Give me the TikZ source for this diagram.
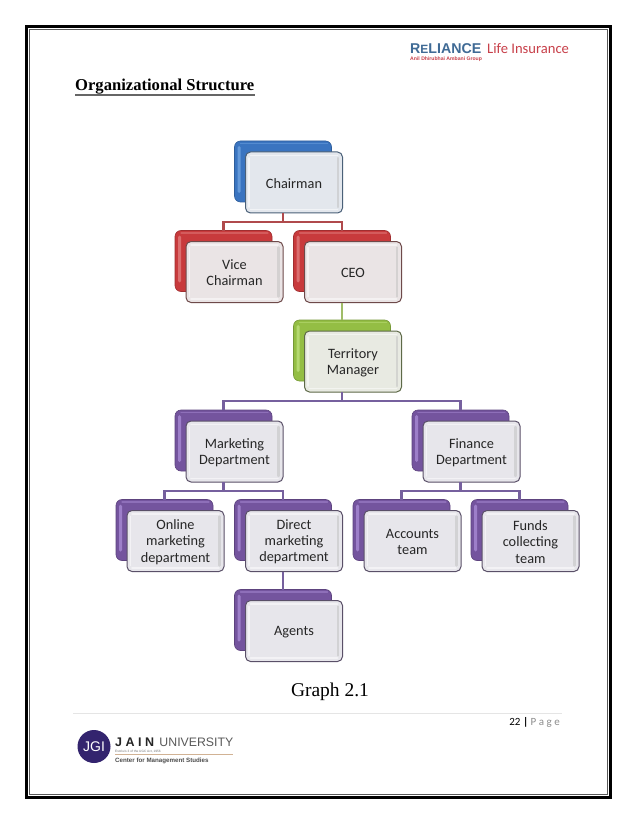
\documentclass[tikz,border=0pt]{standalone}
\usepackage{fontspec}
\setmainfont{Liberation Serif}
\newfontfamily\calfont{Carlito}
\newfontfamily\lsans{Liberation Sans}
\usetikzlibrary{calc}
\definecolor{bluea}{HTML}{3A74C0}
\definecolor{blueb}{HTML}{6FA3E0}
\definecolor{reda}{HTML}{C83A3C}
\definecolor{redb}{HTML}{E07C7C}
\definecolor{greena}{HTML}{94BE44}
\definecolor{greenb}{HTML}{BEE07C}
\definecolor{purpa}{HTML}{74549E}
\definecolor{purpb}{HTML}{A88AD4}
\definecolor{bluef}{HTML}{E3E7ED}
\definecolor{redf}{HTML}{EAE4E5}
\definecolor{greenf}{HTML}{E8EAE2}
\definecolor{purpf}{HTML}{E7E6EB}
\definecolor{bluel}{HTML}{4A6078}
\definecolor{redl}{HTML}{6E4A4A}
\definecolor{greenl}{HTML}{5E6A48}
\definecolor{purpl}{HTML}{5A5068}
\definecolor{relblue}{HTML}{3F6A95}
\definecolor{relred}{HTML}{C8404A}
\definecolor{jgi}{HTML}{33246E}
\definecolor{connr}{HTML}{B04A4C}
\definecolor{conng}{HTML}{A0BC68}
\definecolor{connp}{HTML}{76609E}
\tikzset{x=1pt,y=-1pt,
 backbox/.style={draw=#1!80!black,fill=#1,line width=.6pt,rounded corners=6pt,minimum width=97pt,minimum height=61pt,inner sep=0pt,outer sep=0pt},
 frontbox/.style={draw=#1,line width=1pt,rounded corners=5pt,minimum width=97pt,minimum height=61pt,inner sep=0pt,outer sep=0pt},
 boxtext/.style={align=center,inner sep=0pt,font=\calfont\fontsize{14.3}{16.2}\selectfont,text=black!85},
 conn/.style={line width=2.2pt},
 gloss/.style={line cap=round,opacity=.5},
}
% \orgbox{name}{cx}{cy of front}{back colour}{light}{front tint}{line colour}{text}
\newcommand{\orgbox}[8]{%
 \node[backbox=#4] (#1B) at (#2-11,#3-11) {};
 \fill[#5,opacity=.8,rounded corners=1.5pt] ($(#1B.north west)+(3,5)$) rectangle ($(#1B.north west)+(6,52)$);
 \draw[#5,gloss,line width=1.2pt] ($(#1B.north west)+(6,2.5)$) -- ($(#1B.north east)+(-4,2.5)$);
 \node[frontbox=#7,fill=#6] (#1) at (#2,#3) {};
 \draw[white,gloss,line width=1.4pt] ($(#1.north west)+(5,3.5)$) -- ($(#1.north east)+(-5,3.5)$);
 \draw[black!25,gloss,line width=2.4pt] ($(#1.north east)+(-4.5,6)$) -- ($(#1.south east)+(-4.5,-6)$);
 \draw[white,gloss,line width=1.6pt] ($(#1.south west)+(5,-3.5)$) -- ($(#1.south east)+(-5,-3.5)$);
 \draw[white,gloss,line width=1.4pt] ($(#1.north west)+(3.5,6)$) -- ($(#1.south west)+(3.5,-6)$);
 \node[boxtext] (#1T) at (#2,#3+1) {#8};
}
\begin{document}
\begin{tikzpicture}
\useasboundingbox (0,0) rectangle (638,826);
\fill[white] (0,0) rectangle (638,826);
% page frame
\coordinate (fa) at (26.5,26.5);
\coordinate (fb) at (610.5,797.5);
\draw[black,line width=3.2pt] (fa) rectangle (fb);
\draw[black!65,line width=.7pt] (29.5,29.5) rectangle (607.5,794.5);
% header logo
\node[anchor=base west,inner sep=0pt,text=relblue] (rel) at (410,53.5) {\lsans\bfseries\fontsize{14.2}{15}\selectfont R\fontsize{12}{15}\selectfont E\fontsize{14.2}{15}\selectfont LIANCE};
\node[anchor=base west,inner sep=0pt,text=relred] (life) at (487,53.5) {\calfont\fontsize{14.6}{15}\selectfont Life Insurance};
\node[anchor=base west,inner sep=0pt,text=relred] (anil) at (410,60.5) {\lsans\bfseries\fontsize{5.1}{5}\selectfont Anil Dhirubhai Ambani Group};
% title
\node[anchor=base west,inner sep=0pt,text=black] (title) at (75,91) {\fontsize{16.6}{18}\selectfont\bfseries Organizational Structure};
\draw[black!60,line width=1.4pt] (75,95) -- (255,95);
% boxes
\orgbox{chair}{294}{182.5}{bluea}{blueb}{bluef}{bluel}{Chairman}
\orgbox{vice}{234.5}{272}{reda}{redb}{redf}{redl}{Vice\\Chairman}
\orgbox{ceo}{353}{272}{reda}{redb}{redf}{redl}{CEO}
\orgbox{terr}{353}{361.5}{greena}{greenb}{greenf}{greenl}{Territory\\Manager}
\orgbox{mkt}{234.5}{451.5}{purpa}{purpb}{purpf}{purpl}{Marketing\\Department}
\orgbox{fin}{471.5}{451.5}{purpa}{purpb}{purpf}{purpl}{Finance\\Department}
\orgbox{onl}{175.5}{541}{purpa}{purpb}{purpf}{purpl}{Online\\marketing\\department}
\orgbox{dir}{294}{541}{purpa}{purpb}{purpf}{purpl}{Direct\\marketing\\department}
\orgbox{agt}{294}{631}{purpa}{purpb}{purpf}{purpl}{Agents}
\orgbox{acc}{412.5}{541}{purpa}{purpb}{purpf}{purpl}{Accounts\\team}
\orgbox{fun}{530.5}{541}{purpa}{purpb}{purpf}{purpl}{Funds\\collecting\\team}
% connectors
\coordinate (busa) at (0,222);
\coordinate (busb) at (0,401);
\coordinate (busc) at (0,491);
\draw[conn,connr] (chair.south -| chairB.south) -- (chairB.south |- busa);
\draw[conn,connr] (viceB.north) |- (ceoB.north |- busa) -- (ceoB.north);
\draw[conn,conng] (ceo.south -| ceoB.south) -- (terrB.north);
\draw[conn,connp] (terr.south -| terrB.south) -- (terrB.south |- busb);
\draw[conn,connp] (mktB.north) |- (finB.north |- busb) -- (finB.north);
\draw[conn,connp] (mkt.south -| mktB.south) -- (mktB.south |- busc);
\draw[conn,connp] (onlB.north) |- (dirB.north |- busc) -- (dirB.north);
\draw[conn,connp] (fin.south -| finB.south) -- (finB.south |- busc);
\draw[conn,connp] (accB.north) |- (funB.north |- busc) -- (funB.north);
\draw[conn,connp] (dir.south -| dirB.south) -- (agtB.north);
% caption and footer
\node[anchor=base,inner sep=0pt] (cap) at (330,696) {\fontsize{19.5}{21}\selectfont Graph 2.1};
\draw[black!10,line width=.8pt] (73,713.5) -- (562,713.5);
\node[anchor=base east,inner sep=0pt,text=black] (pg) at (560,725.5) {\calfont\fontsize{11}{13}\selectfont 22 \textbf{|} \textcolor{black!45}{P a g e}};
% JGI logo
\node[circle,fill=jgi,minimum size=33pt,inner sep=0pt,text=white] (jg) at (94,746.5) {\lsans\fontsize{14}{14}\selectfont JGI};
\node[anchor=base west,inner sep=0pt,text=black!85] (jain) at (115,746) {\lsans\bfseries\fontsize{12.5}{13}\selectfont J A I N};
\node[anchor=base east,inner sep=0pt,text=black!65] (univ) at (233.5,746) {\lsans\fontsize{12.3}{13}\selectfont UNIVERSITY};
\node[anchor=base west,inner sep=0pt,text=black!55] (est) at (115,752) {\lsans\fontsize{3.2}{4}\selectfont Estd u/s 3 of the UGC Act, 1956};
\draw[orange!40!gray!60,line width=.5pt] (115,754.5) -- (233,754.5);
\node[anchor=base west,inner sep=0pt,text=black!70] (cms) at (115,762) {\lsans\bfseries\fontsize{6.2}{7}\selectfont Center for Management Studies};
\end{tikzpicture}
\end{document}
